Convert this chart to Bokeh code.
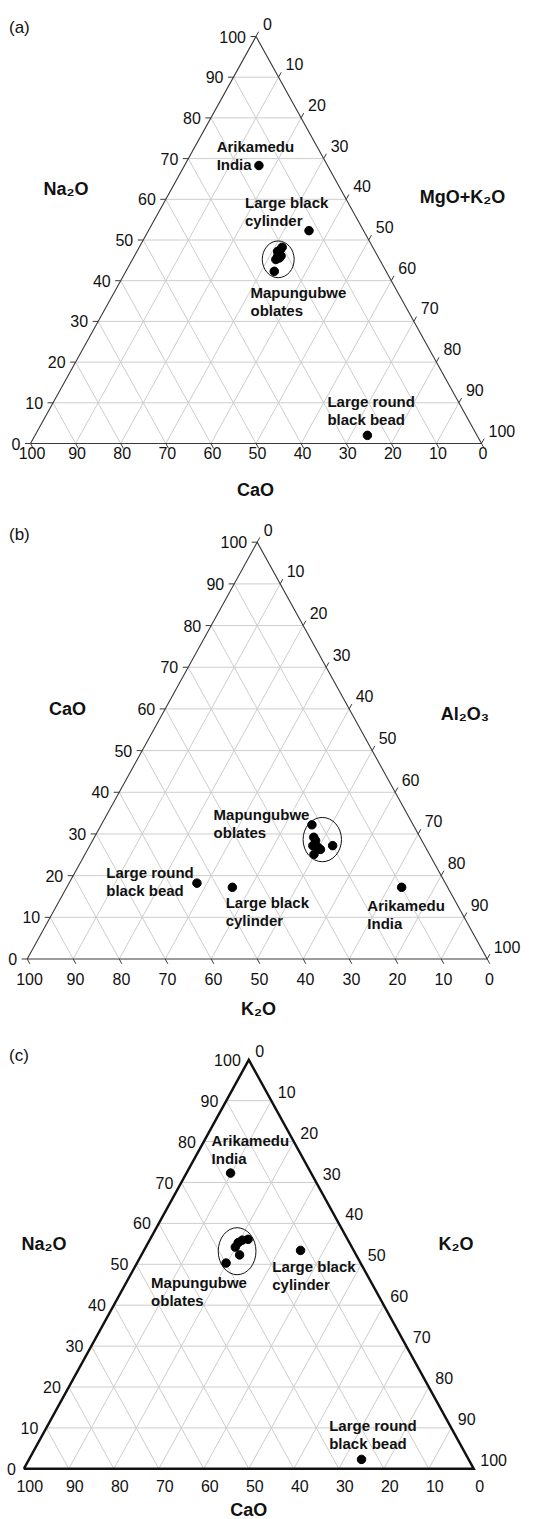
import numpy as np
from bokeh.plotting import figure
from bokeh.models import ColumnDataSource, Range1d
from bokeh.core.properties import value
from bokeh.embed import file_html
from bokeh.resources import INLINE

# ---------------- data (percent values) ----------------
ticks = [0, 10, 20, 30, 40, 50, 60, 70, 80, 90, 100]
tick_labels = [str(t) for t in ticks]
grid_levels = [10, 20, 30, 40, 50, 60, 70, 80, 90]

samples = ["Arikamedu India", "Large black cylinder", "Large round black bead"]
cluster_name = "Mapungubwe oblates"

# (a) Na2O (top) - CaO (left) - MgO+K2O (right)
a_na2o = [68.3, 52.3, 2.0]
a_cao = [15.2, 12.1, 24.3]
a_mgk = [16.5, 35.6, 73.7]
a_map_na2o = [48.2, 47.6, 47.2, 46.1, 46.0, 45.6, 45.2, 42.3]
a_map_cao = [20.1, 20.8, 21.6, 21.4, 22.2, 22.0, 23.0, 24.8]
a_map_mgk = [31.7, 31.6, 31.2, 32.5, 31.8, 32.4, 31.8, 32.9]

# (b) CaO (top) - K2O (left) - Al2O3 (right)
b_cao = [17.2, 17.2, 18.2]
b_k2o = [10.0, 46.8, 54.0]
b_al2o3 = [72.8, 36.0, 27.8]
b_map_cao = [32.2, 29.2, 28.4, 27.2, 26.3, 25.1, 27.2, 26.8]
b_map_k2o = [22.0, 23.1, 23.1, 24.3, 23.1, 25.1, 20.0, 23.4]
b_map_al2o3 = [45.8, 47.7, 48.5, 48.5, 50.6, 49.8, 52.8, 49.8]

# (c) Na2O (top) - CaO (left) - K2O (right)
c_na2o = [72.3, 53.4, 2.3]
c_cao = [17.9, 11.8, 23.8]
c_k2o = [9.8, 34.8, 73.9]
c_map_na2o = [56.1, 55.9, 55.3, 54.2, 52.3, 50.3]
c_map_cao = [22.1, 23.5, 24.7, 25.9, 25.9, 29.9]
c_map_k2o = [21.8, 20.6, 20.0, 19.9, 21.8, 19.8]

label_lines = {
    "Arikamedu India": ["Arikamedu", "India"],
    "Large black cylinder": ["Large black", "cylinder"],
    "Large round black bead": ["Large round", "black bead"],
    "Mapungubwe oblates": ["Mapungubwe", "oblates"],
}

# ---------------- layout / style ----------------
FONT = value("Liberation Sans")
panels = [
    dict(tag="(a)", tag_pos=(8.5, 27),
         L=(30, 443), R=(481, 443), T=(255.5, 36),
         top=a_na2o, left=a_cao, right=a_mgk,
         ctop=a_map_na2o, cleft=a_map_cao, cright=a_map_mgk,
         titles=[("Na₂O", 65.5, 188.5), ("MgO+K₂O", 462, 196.5), ("CaO", 255, 489)],
         lab_left=(-10, 0), lab_right=(7, -13), lab_bottom=(1.5, 9.5),
         ticks=True, edge_w=1.1, edge_c="#3a3a3a", ell_pad=(24, 12.7),
         offs={"Arikamedu India": (-42.3, -19.3), "Large black cylinder": (-64, -28.3),
               "Large round black bead": (-40, -34), "Mapungubwe oblates": (-27.7, 32.8)}),
    dict(tag="(b)", tag_pos=(8.5, 533.5),
         L=(26.7, 958.5), R=(486.7, 958.5), T=(256.7, 541.7),
         top=b_cao, left=b_k2o, right=b_al2o3,
         ctop=b_map_cao, cleft=b_map_k2o, cright=b_map_al2o3,
         titles=[("CaO", 67, 708.5), ("Al₂O₃", 464.5, 713.5), ("K₂O", 258, 1008)],
         lab_left=(-10, 0), lab_right=(6.5, -12.5), lab_bottom=(2.3, 20),
         ticks=True, edge_w=1.1, edge_c="#3a3a3a", ell_pad=(17.7, 14.7),
         offs={"Arikamedu India": (-34.3, 18.3), "Large black cylinder": (-6.7, 15),
               "Large round black bead": (-90.7, -11), "Mapungubwe oblates": (-108.7, -25.2)}),
    dict(tag="(c)", tag_pos=(8.5, 1055),
         L=(23.3, 1468.3), R=(473.3, 1468.3), T=(248.3, 1059.3),
         top=c_na2o, left=c_cao, right=c_k2o,
         ctop=c_map_na2o, cleft=c_map_cao, cright=c_map_k2o,
         titles=[("Na₂O", 43.5, 1243.5), ("K₂O", 455.5, 1243.5), ("CaO", 248.3, 1509.5)],
         lab_left=(-8, 0), lab_right=(6.5, -9), lab_bottom=(6, 16.7),
         ticks=False, edge_w=2.4, edge_c="#111111", ell_pad=(15.7, 23.3),
         offs={"Arikamedu India": (-19, -32.7), "Large black cylinder": (-28.3, 16),
               "Large round black bead": (-32.4, -34), "Mapungubwe oblates": (-86, 31)}),
]

W, H = 548, 1519
p = figure(width=W, height=H, x_range=Range1d(0, W), y_range=Range1d(H, 0),
           output_backend="svg", toolbar_location=None, min_border=0,
           x_axis_location=None, y_axis_location=None)
p.xgrid.visible = False
p.ygrid.visible = False
p.outline_line_color = None
p.background_fill_color = "white"
p.border_fill_color = "white"


def tern(top, left, right, g):
    t = np.asarray(top, float) / 100.0
    l = np.asarray(left, float) / 100.0
    r = np.asarray(right, float) / 100.0
    x = t * g["T"][0] + l * g["L"][0] + r * g["R"][0]
    y = t * g["T"][1] + l * g["L"][1] + r * g["R"][1]
    return x, y


def unit(a, b):
    v = np.array(b, float) - np.array(a, float)
    return v / np.hypot(*v)


def add_text(xs, ys, texts, size, align, style="normal", baseline="middle"):
    src = ColumnDataSource(dict(x=list(xs), y=list(ys), t=list(texts)))
    p.text(x="x", y="y", text="t", source=src, text_font=FONT,
           text_font_size=f"{size}px", text_align=align, text_baseline=baseline,
           text_font_style=style, text_color="#111111")


for g in panels:
    lv = np.array(grid_levels, float)
    zero = np.zeros_like(lv)
    # grid lines: constant top, constant left, constant right
    xs, ys = [], []
    for (s0, s1) in [
        ((lv, 100 - lv, zero), (lv, zero, 100 - lv)),
        ((100 - lv, lv, zero), (zero, lv, 100 - lv)),
        ((100 - lv, zero, lv), (zero, 100 - lv, lv)),
    ]:
        x0, y0 = tern(*s0, g)
        x1, y1 = tern(*s1, g)
        for i in range(len(lv)):
            xs.append([x0[i], x1[i]])
            ys.append([y0[i], y1[i]])
    p.multi_line(xs, ys, line_color="#cdcdcd", line_width=1)

    # triangle outline
    cx, cy = tern([0, 0, 100, 0], [100, 0, 0, 100], [0, 100, 0, 0], g)
    p.line(cx, cy, line_color=g["edge_c"], line_width=g["edge_w"], line_join="miter")

    tk = np.array(ticks, float)
    tz = np.zeros_like(tk)
    lx, ly = tern(tk, 100 - tk, tz, g)        # left axis (top component)
    rx, ry = tern(100 - tk, tz, tk, g)        # right axis (right component)
    bx, by = tern(tz, tk, 100 - tk, g)        # bottom axis (left component)

    if g["ticks"]:
        tl = 5.5
        ub = unit(g["T"], g["R"])
        ur = unit(g["L"], g["T"])
        txs, tys = [], []
        for i in range(len(tk)):
            txs.append([lx[i], lx[i] - tl]); tys.append([ly[i], ly[i]])
            txs.append([bx[i], bx[i] + ub[0] * tl]); tys.append([by[i], by[i] + ub[1] * tl])
            txs.append([rx[i], rx[i] + ur[0] * tl]); tys.append([ry[i], ry[i] + ur[1] * tl])
        p.multi_line(txs, tys, line_color="#3a3a3a", line_width=1)

    add_text(lx + g["lab_left"][0], ly + g["lab_left"][1], tick_labels, 16, "right")
    add_text(rx + g["lab_right"][0], ry + g["lab_right"][1], tick_labels, 16, "left")
    add_text(bx + g["lab_bottom"][0], by + g["lab_bottom"][1], tick_labels, 16, "center")

    # axis titles
    add_text([t[1] for t in g["titles"]], [t[2] for t in g["titles"]],
             [t[0] for t in g["titles"]], 18, "center", style="bold")
    # panel tag
    add_text([g["tag_pos"][0]], [g["tag_pos"][1]], [g["tag"]], 17, "left")

    # samples
    px, py = tern(g["top"], g["left"], g["right"], g)
    qx, qy = tern(g["ctop"], g["cleft"], g["cright"], g)
    p.scatter(np.concatenate([px, qx]), np.concatenate([py, qy]), size=8.5,
              marker="circle", fill_color="black", line_color="black")

    # ellipse around the cluster
    ecx, ecy = (qx.min() + qx.max()) / 2, (qy.min() + qy.max()) / 2
    ew = qx.max() - qx.min() + g["ell_pad"][0]
    eh = qy.max() - qy.min() + g["ell_pad"][1]
    p.ellipse([ecx], [ecy], width=ew, height=eh, fill_color=None,
              line_color="#111111", line_width=1)

    # annotations
    ax, ay, at = [], [], []
    anchors = {s: (px[i], py[i]) for i, s in enumerate(samples)}
    anchors[cluster_name] = (ecx, ecy)
    for name, (dx, dy) in g["offs"].items():
        x0, y0 = anchors[name]
        for j, line in enumerate(label_lines[name]):
            ax.append(x0 + dx); ay.append(y0 + dy + 18.3 * j); at.append(line)
    add_text(ax, ay, at, 15, "left", style="bold")

open("out.html", "w").write(file_html(p, INLINE))
